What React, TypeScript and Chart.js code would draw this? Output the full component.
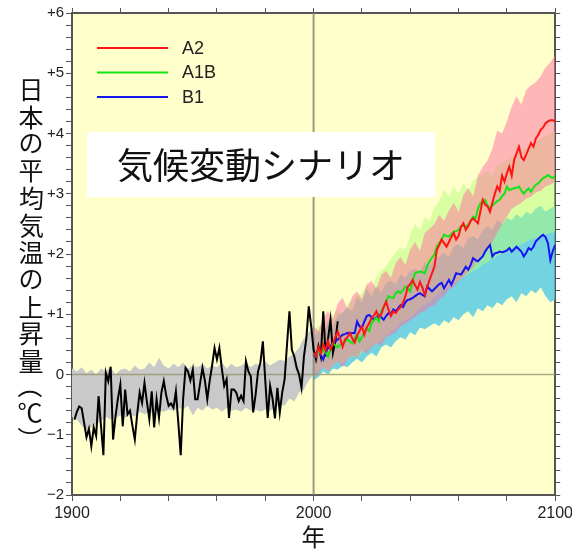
import { useEffect, useRef } from 'react';
import { Chart, registerables } from 'chart.js';

Chart.register(...registerables);

const SANS = '"Liberation Sans", Arial, Helvetica, sans-serif';
const CJK = '"Noto Sans CJK JP", "Noto Sans CJK SC", sans-serif';

// axes
const X_MIN = 1900;
const X_MAX = 2100;
const X_TICK_STEP = 20;
const X_LABEL_EVERY = 100;
const Y_MIN = -2;
const Y_MAX = 6;
const Y_TICK_STEP = 0.2;

// texts
const Y_TITLE = '日本の平均気温の上昇量（℃）';
const X_TITLE = '年';
const BOX_TEXT = '気候変動シナリオ';
const SERIES_LABELS = ['A2', 'A1B', 'B1'];
const SERIES_COLORS = ['#ff1414', '#12e612', '#1414f0'];
const BAND_COLORS = ['rgba(255,110,160,0.5)', 'rgba(180,255,120,0.5)', 'rgba(80,200,230,0.8)'];
const GREY_COLOR = '#c9c9c9';

// observed annual anomaly, 1901-2010
const OBS_START = 1901;
const obsValues = [
  -0.75, -0.62, -0.53, -0.56, -0.80, -1.04, -0.90, -1.19, -0.88, -1.02,
  -0.36, -0.85, -1.34, 0.03, -0.11, 0.13, -1.08, -0.70, -0.40, -0.17,
  -0.86, -0.25, -0.66, -0.60, -0.85, -1.08, -0.65, -0.30, -0.47, -0.14,
  -0.45, -0.74, -0.28, -0.88, -0.41, -0.72, -0.30, -0.11, -0.35, -0.52,
  -0.48, -0.55, -0.28, -0.80, -1.34, -0.40, 0.11, 0.05, -0.10, 0.08,
  -0.41, -0.41, -0.15, 0.11, -0.10, -0.41, -0.10, 0.15, 0.44, 0.25,
  0.44, 0.10, -0.19, -0.08, -0.72, -0.25, -0.25, -0.30, -0.44, -0.35,
  -0.44, 0.22, 0.05, -0.03, -0.63, -0.33, 0.05, 0.20, 0.55, -0.10,
  -0.72, -0.19, -0.40, -0.73, -0.22, -0.63, -0.30, -0.08, 0.50, 1.05,
  0.41, 0.30, 0.11, 0.00, -0.22, 0.30, 0.60, 1.13, 0.80, 0.41,
  0.25, 0.47, 0.30, 1.05, 0.30, 0.60, 0.91, 0.36, 0.55, 0.88,
];

// scenario annual means, 2000-2100
const SCEN_START = 2000;
const a2Values = [
  0.36, 0.30, 0.45, 0.35, 0.50, 0.40, 0.55, 0.42, 0.50, 0.62,
  0.71, 0.60, 0.46, 0.58, 0.62, 0.69, 0.60, 0.53, 0.65, 0.72,
  0.80, 0.66, 0.78, 0.85, 0.94, 0.98, 1.05, 0.95, 1.00, 1.12,
  1.21, 1.08, 0.97, 1.05, 1.02, 1.08, 1.12, 1.19, 1.30, 1.46,
  1.50, 1.57, 1.48, 1.41, 1.54, 1.45, 1.32, 1.45, 1.57, 1.68,
  1.79, 2.07, 2.15, 2.24, 2.18, 2.12, 2.20, 2.28, 2.35, 2.24,
  2.30, 2.45, 2.51, 2.40, 2.46, 2.55, 2.59, 2.55, 2.51, 2.70,
  2.90, 2.82, 2.79, 2.70, 2.85, 3.00, 3.12, 3.05, 3.30, 3.20,
  3.34, 3.45, 3.30, 3.56, 3.67, 3.78, 3.61, 3.56, 3.65, 3.75,
  3.84, 3.78, 3.92, 3.98, 4.06, 4.10, 4.17, 4.20, 4.22, 4.22,
  4.20,
];
const a1bValues = [
  0.35, 0.30, 0.38, 0.35, 0.41, 0.36, 0.30, 0.42, 0.52, 0.48,
  0.45, 0.50, 0.50, 0.55, 0.58, 0.55, 0.52, 0.60, 0.66, 0.55,
  0.62, 0.70, 0.77, 0.72, 0.86, 0.90, 0.94, 0.88, 1.05, 1.12,
  1.20, 1.30, 1.28, 1.27, 1.35, 1.38, 1.35, 1.40, 1.46, 1.42,
  1.38, 1.55, 1.68, 1.70, 1.71, 1.70, 1.68, 1.80, 1.88, 1.94,
  1.99, 2.12, 2.18, 2.24, 2.32, 2.30, 2.29, 2.33, 2.37, 2.38,
  2.40, 2.46, 2.47, 2.46, 2.48, 2.55, 2.62, 2.59, 2.75, 2.84,
  2.88, 2.90, 2.80, 2.76, 2.80, 2.84, 2.88, 2.90, 2.96, 3.00,
  3.12, 3.06, 3.08, 3.09, 3.10, 3.12, 3.05, 3.00, 3.05, 3.09,
  3.03, 3.10, 3.15, 3.17, 3.22, 3.26, 3.28, 3.31, 3.28, 3.26,
  3.30,
];
const b1Values = [
  0.30, 0.35, 0.39, 0.32, 0.25, 0.38, 0.44, 0.48, 0.50, 0.55,
  0.58, 0.62, 0.66, 0.67, 0.69, 0.68, 0.69, 0.69, 0.88, 0.80,
  0.77, 0.88, 0.97, 0.99, 0.95, 0.91, 0.95, 0.99, 0.95, 0.91,
  0.97, 1.02, 1.00, 1.08, 1.05, 1.10, 1.15, 1.12, 1.20, 1.24,
  1.25, 1.27, 1.30, 1.33, 1.35, 1.32, 1.30, 1.46, 1.42, 1.38,
  1.42, 1.46, 1.50, 1.52, 1.43, 1.50, 1.57, 1.49, 1.58, 1.68,
  1.67, 1.66, 1.72, 1.79, 1.74, 1.82, 1.93, 1.90, 1.88, 1.92,
  1.96, 2.04, 2.10, 2.15, 1.96, 2.01, 2.02, 2.04, 2.03, 2.04,
  2.06, 2.10, 2.04, 2.08, 2.12, 2.08, 2.04, 1.96, 2.02, 2.10,
  2.07, 2.12, 2.21, 2.25, 2.29, 2.32, 2.28, 2.18, 1.90, 2.05,
  2.15,
];

// scenario ranges, every 2 years 2000-2100
const BAND_START = 2000;
const BAND_STEP = 2;
const a2Upper = [
  0.80, 0.72, 0.95, 1.05, 0.92, 1.18, 1.28, 1.08, 1.30, 1.38,
  1.25, 1.50, 1.55, 1.42, 1.65, 1.72, 1.60, 1.85, 1.95, 1.82,
  2.08, 2.20, 2.05, 2.35, 2.42, 2.50, 2.65, 2.55, 2.72, 2.85,
  2.70, 2.98, 3.10, 2.95, 3.30, 3.45, 3.55, 3.75, 4.05, 4.00,
  4.20, 4.45, 4.62, 4.48, 4.72, 4.80, 4.85, 4.95, 5.10, 5.18,
  5.30,
];
const a2Lower = [
  -0.05, 0.02, 0.12, 0.05, 0.15, 0.22, 0.12, 0.25, 0.32, 0.28,
  0.40, 0.35, 0.45, 0.52, 0.48, 0.62, 0.66, 0.70, 0.80, 0.84,
  0.90, 0.95, 1.02, 1.05, 1.12, 1.15, 1.25, 1.30, 1.42, 1.45,
  1.55, 1.62, 1.70, 1.78, 1.90, 2.00, 2.08, 2.20, 2.35, 2.50,
  2.62, 2.75, 2.80, 2.85, 2.92, 2.95, 3.02, 3.05, 3.12, 3.15,
  3.20,
];
const a1bUpper = [
  0.70, 0.82, 0.75, 0.92, 0.98, 1.08, 1.00, 1.18, 1.22, 1.32,
  1.35, 1.48, 1.40, 1.62, 1.72, 1.80, 1.92, 2.02, 2.12, 2.05,
  2.32, 2.50, 2.40, 2.62, 2.55, 2.78, 2.88, 3.08, 2.95, 3.12,
  3.00, 3.18, 3.05, 3.22, 3.28, 3.32, 3.38, 3.30, 3.48, 3.52,
  3.55, 3.62, 3.65, 3.72, 3.76, 3.80, 3.86, 3.92, 3.95, 4.00,
  4.05,
];
const a1bLower = [
  0.00, 0.06, 0.12, 0.05, 0.16, 0.22, 0.18, 0.26, 0.32, 0.28,
  0.36, 0.42, 0.46, 0.52, 0.55, 0.63, 0.72, 0.75, 0.86, 0.90,
  0.96, 1.02, 1.10, 1.16, 1.20, 1.30, 1.36, 1.40, 1.46, 1.52,
  1.55, 1.62, 1.66, 1.72, 1.75, 1.82, 1.86, 1.92, 1.96, 2.02,
  2.06, 2.10, 2.12, 2.16, 2.20, 2.24, 2.26, 2.30, 2.32, 2.35,
  2.36,
];
const b1Upper = [
  0.60, 0.72, 0.65, 0.88, 0.80, 0.98, 1.02, 1.12, 1.05, 1.28,
  1.20, 1.42, 1.30, 1.46, 1.36, 1.52, 1.56, 1.50, 1.66, 1.60,
  1.72, 1.76, 1.70, 1.86, 1.80, 1.92, 1.96, 2.02, 1.95, 2.12,
  2.16, 2.10, 2.26, 2.30, 2.24, 2.40, 2.46, 2.40, 2.56, 2.50,
  2.60, 2.56, 2.66, 2.60, 2.70, 2.66, 2.76, 2.80, 2.70, 2.76,
  2.80,
];
const b1Lower = [
  -0.10, -0.04, 0.05, 0.00, 0.10, 0.08, 0.15, 0.12, 0.20, 0.26,
  0.20, 0.30, 0.36, 0.30, 0.45, 0.50, 0.45, 0.55, 0.62, 0.58,
  0.70, 0.65, 0.78, 0.75, 0.80, 0.85, 0.80, 0.90, 0.85, 0.95,
  0.90, 1.00, 1.05, 0.95, 1.10, 1.05, 1.15, 1.10, 1.20, 1.15,
  1.25, 1.30, 1.20, 1.35, 1.30, 1.40, 1.35, 1.45, 1.30, 1.20,
  1.25,
];

// 20th-century simulated range, every 2 years 1900-2000
const GREY_START = 1900;
const GREY_STEP = 2;
const greyUpper = [
  0.10, 0.05, 0.12, 0.02, 0.08, 0.00, 0.10, 0.05, 0.12, 0.00,
  0.08, 0.10, 0.05, 0.15, 0.08, 0.10, 0.20, 0.12, 0.28, 0.15,
  0.10, 0.18, 0.12, 0.20, 0.10, 0.15, 0.12, 0.18, 0.10, 0.15,
  0.12, 0.20, 0.10, 0.18, 0.12, 0.15, 0.20, 0.12, 0.18, 0.15,
  0.22, 0.15, 0.20, 0.25, 0.22, 0.30, 0.35, 0.45, 0.60, 0.70,
  0.80,
];
const greyLower = [
  -0.70, -0.75, -0.85, -0.92, -0.88, -0.82, -0.78, -0.70, -0.75, -0.72,
  -0.68, -0.72, -0.66, -0.70, -0.62, -0.66, -0.62, -0.65, -0.60, -0.62,
  -0.58, -0.60, -0.55, -0.58, -0.52, -0.68, -0.55, -0.60, -0.52, -0.58,
  -0.55, -0.62, -0.55, -0.60, -0.58, -0.62, -0.55, -0.60, -0.58, -0.62,
  -0.58, -0.60, -0.55, -0.50, -0.52, -0.40, -0.45, -0.30, -0.25, -0.10,
  0.00,
];

const pts = (start: number, step: number, values: number[]) =>
  values.map((y, i) => ({ x: start + i * step, y }));

const lineDs = (label: string, data: any[], color: string) => ({
  label,
  data,
  borderColor: color,
  backgroundColor: color,
  borderWidth: 2,
  pointRadius: 0,
  fill: false,
});
const edgeDs = (label: string, data: any[], fill: any, color: string) => ({
  label,
  data,
  borderColor: 'rgba(0,0,0,0)',
  backgroundColor: color,
  borderWidth: 0,
  pointRadius: 0,
  fill,
});

function inkText(ctx: CanvasRenderingContext2D, text: string, cx: number, cy: number, rot = 0) {
  ctx.textAlign = 'left';
  ctx.textBaseline = 'alphabetic';
  const m = ctx.measureText(text);
  const ox = (m.actualBoundingBoxRight - m.actualBoundingBoxLeft) / 2;
  const oy = (m.actualBoundingBoxDescent - m.actualBoundingBoxAscent) / 2;
  ctx.save();
  ctx.translate(cx, cy);
  if (rot) ctx.rotate(rot);
  ctx.fillText(text, -ox, -oy);
  ctx.restore();
}

const decor = {
  id: 'decor',
  beforeDraw(chart: any) {
    const { ctx, chartArea: a } = chart;
    ctx.save();
    ctx.fillStyle = '#ffffcc';
    ctx.fillRect(a.left, a.top, a.right - a.left, a.bottom - a.top);
    ctx.restore();
  },
  beforeDatasetsDraw(chart: any) {
    const { ctx, chartArea: a, scales } = chart;
    const xp = scales.x.getPixelForValue(2000);
    const yp = scales.y.getPixelForValue(0);
    ctx.save();
    ctx.strokeStyle = 'rgba(130,130,120,0.8)';
    ctx.lineWidth = 2;
    ctx.beginPath();
    ctx.moveTo(xp, a.top);
    ctx.lineTo(xp, a.bottom);
    ctx.stroke();
    ctx.strokeStyle = 'rgba(150,150,110,0.8)';
    ctx.lineWidth = 1.5;
    ctx.beginPath();
    ctx.moveTo(a.left, yp);
    ctx.lineTo(a.right, yp);
    ctx.stroke();
    ctx.restore();
  },
  afterDraw(chart: any) {
    const { ctx } = chart;
    ctx.save();
    // scenario label box
    ctx.fillStyle = '#ffffff';
    ctx.fillRect(87, 132, 348, 65);
    ctx.fillStyle = '#111';
    ctx.font = `36px ${CJK}`;
    inkText(ctx, BOX_TEXT, 260, 165);
    // legend
    ctx.font = `18px ${SANS}`;
    SERIES_LABELS.forEach((lab, i) => {
      const y = 48 + i * 24.5;
      ctx.strokeStyle = SERIES_COLORS[i];
      ctx.lineWidth = 2;
      ctx.beginPath();
      ctx.moveTo(97, y);
      ctx.lineTo(168, y);
      ctx.stroke();
      ctx.fillStyle = '#222';
      ctx.textAlign = 'left';
      ctx.textBaseline = 'middle';
      ctx.fillText(lab, 182, y + 1);
    });
    // vertical y-axis title
    ctx.fillStyle = '#111';
    ctx.font = `25px ${CJK}`;
    Array.from(Y_TITLE).forEach((ch, i) => {
      if (ch === '（') inkText(ctx, ch, 30, 394, Math.PI / 2);
      else if (ch === '℃') inkText(ctx, ch, 30, 412);
      else if (ch === '）') inkText(ctx, ch, 30, 431, Math.PI / 2);
      else inkText(ctx, ch, 31, 90 + i * 27.1);
    });
    ctx.restore();
  },
};

const isWhole = (v: number) => Math.abs(v - Math.round(v)) < 1e-6;
const yLabel = (v: number) => {
  if (!isWhole(v)) return '';
  const r = Math.round(v);
  if (r > 0) return '+' + r;
  if (r < 0) return '\u2212' + Math.abs(r);
  return '0';
};

const AXIS_COLOR = '#555';

export default function App() {
  const ref = useRef<HTMLCanvasElement>(null);
  useEffect(() => {
    const datasets = [
      lineDs(SERIES_LABELS[0], pts(SCEN_START, 1, a2Values), SERIES_COLORS[0]),
      lineDs(SERIES_LABELS[1], pts(SCEN_START, 1, a1bValues), SERIES_COLORS[1]),
      lineDs(SERIES_LABELS[2], pts(SCEN_START, 1, b1Values), SERIES_COLORS[2]),
      lineDs('観測', pts(OBS_START, 1, obsValues), '#000000'),
      edgeDs('A2 low', pts(BAND_START, BAND_STEP, a2Lower), false, 'rgba(0,0,0,0)'),
      edgeDs('A2 high', pts(BAND_START, BAND_STEP, a2Upper), '-1', BAND_COLORS[0]),
      edgeDs('A1B low', pts(BAND_START, BAND_STEP, a1bLower), false, 'rgba(0,0,0,0)'),
      edgeDs('A1B high', pts(BAND_START, BAND_STEP, a1bUpper), '-1', BAND_COLORS[1]),
      edgeDs('B1 low', pts(BAND_START, BAND_STEP, b1Lower), false, 'rgba(0,0,0,0)'),
      edgeDs('B1 high', pts(BAND_START, BAND_STEP, b1Upper), '-1', BAND_COLORS[2]),
      edgeDs('20C low', pts(GREY_START, GREY_STEP, greyLower), false, 'rgba(0,0,0,0)'),
      edgeDs('20C high', pts(GREY_START, GREY_STEP, greyUpper), '-1', GREY_COLOR),
    ];
    const chart = new Chart(ref.current as HTMLCanvasElement, {
      type: 'line',
      data: { datasets } as any,
      options: {
        animation: false,
        responsive: false,
        devicePixelRatio: 1,
        events: [],
        layout: { padding: 0 },
        plugins: {
          legend: { display: false },
          tooltip: { enabled: false },
          filler: { drawTime: 'beforeDatasetsDraw' },
        } as any,
        scales: {
          x: {
            type: 'linear',
            position: 'bottom',
            min: X_MIN,
            max: X_MAX,
            ticks: {
              stepSize: X_TICK_STEP,
              autoSkip: false,
              maxRotation: 0,
              padding: 3,
              color: '#222',
              font: { family: SANS, size: 16 },
              callback: (v: any) => (Number(v) % X_LABEL_EVERY === 0 ? String(v) : ''),
            },
            grid: { drawOnChartArea: false, tickLength: 6, color: AXIS_COLOR, tickColor: AXIS_COLOR },
            border: { color: AXIS_COLOR, width: 2 },
            title: {
              display: true,
              text: X_TITLE,
              color: '#111',
              font: { family: CJK, size: 24, lineHeight: 1.1 },
              padding: { top: 0, bottom: 0 },
            },
            afterFit: (s: any) => { s.height = 55; },
          },
          x2: {
            type: 'linear',
            position: 'top',
            min: X_MIN,
            max: X_MAX,
            ticks: { display: false, stepSize: X_TICK_STEP, autoSkip: false },
            grid: { drawOnChartArea: false, tickLength: 5, color: AXIS_COLOR, tickColor: AXIS_COLOR },
            border: { color: AXIS_COLOR, width: 2 },
            afterFit: (s: any) => { s.height = 13; },
          },
          y: {
            type: 'linear',
            position: 'left',
            min: Y_MIN,
            max: Y_MAX,
            ticks: {
              stepSize: Y_TICK_STEP,
              autoSkip: false,
              padding: 2,
              color: '#222',
              font: { family: SANS, size: 15 },
              callback: (v: any) => yLabel(Number(v)),
            },
            grid: { drawOnChartArea: false, tickLength: 6, color: AXIS_COLOR, tickColor: AXIS_COLOR },
            border: { color: AXIS_COLOR, width: 2 },
            afterFit: (s: any) => { s.width = 72; },
          },
          y2: {
            type: 'linear',
            position: 'right',
            min: Y_MIN,
            max: Y_MAX,
            ticks: { display: false, stepSize: Y_TICK_STEP, autoSkip: false },
            grid: { drawOnChartArea: false, tickLength: 5, color: AXIS_COLOR, tickColor: AXIS_COLOR },
            border: { color: AXIS_COLOR, width: 2 },
            afterFit: (s: any) => { s.width = 20; },
          },
        } as any,
      },
      plugins: [decor as any],
    });
    return () => chart.destroy();
  }, []);
  return (
    <div
      style={{
        position: 'absolute',
        left: 0,
        top: 0,
        width: 572,
        height: 550,
        overflow: 'hidden',
        background: '#ffffff',
      }}
    >
      <canvas ref={ref} width={576} height={550} style={{ display: 'block', width: 576, height: 550 }} />
    </div>
  );
}
